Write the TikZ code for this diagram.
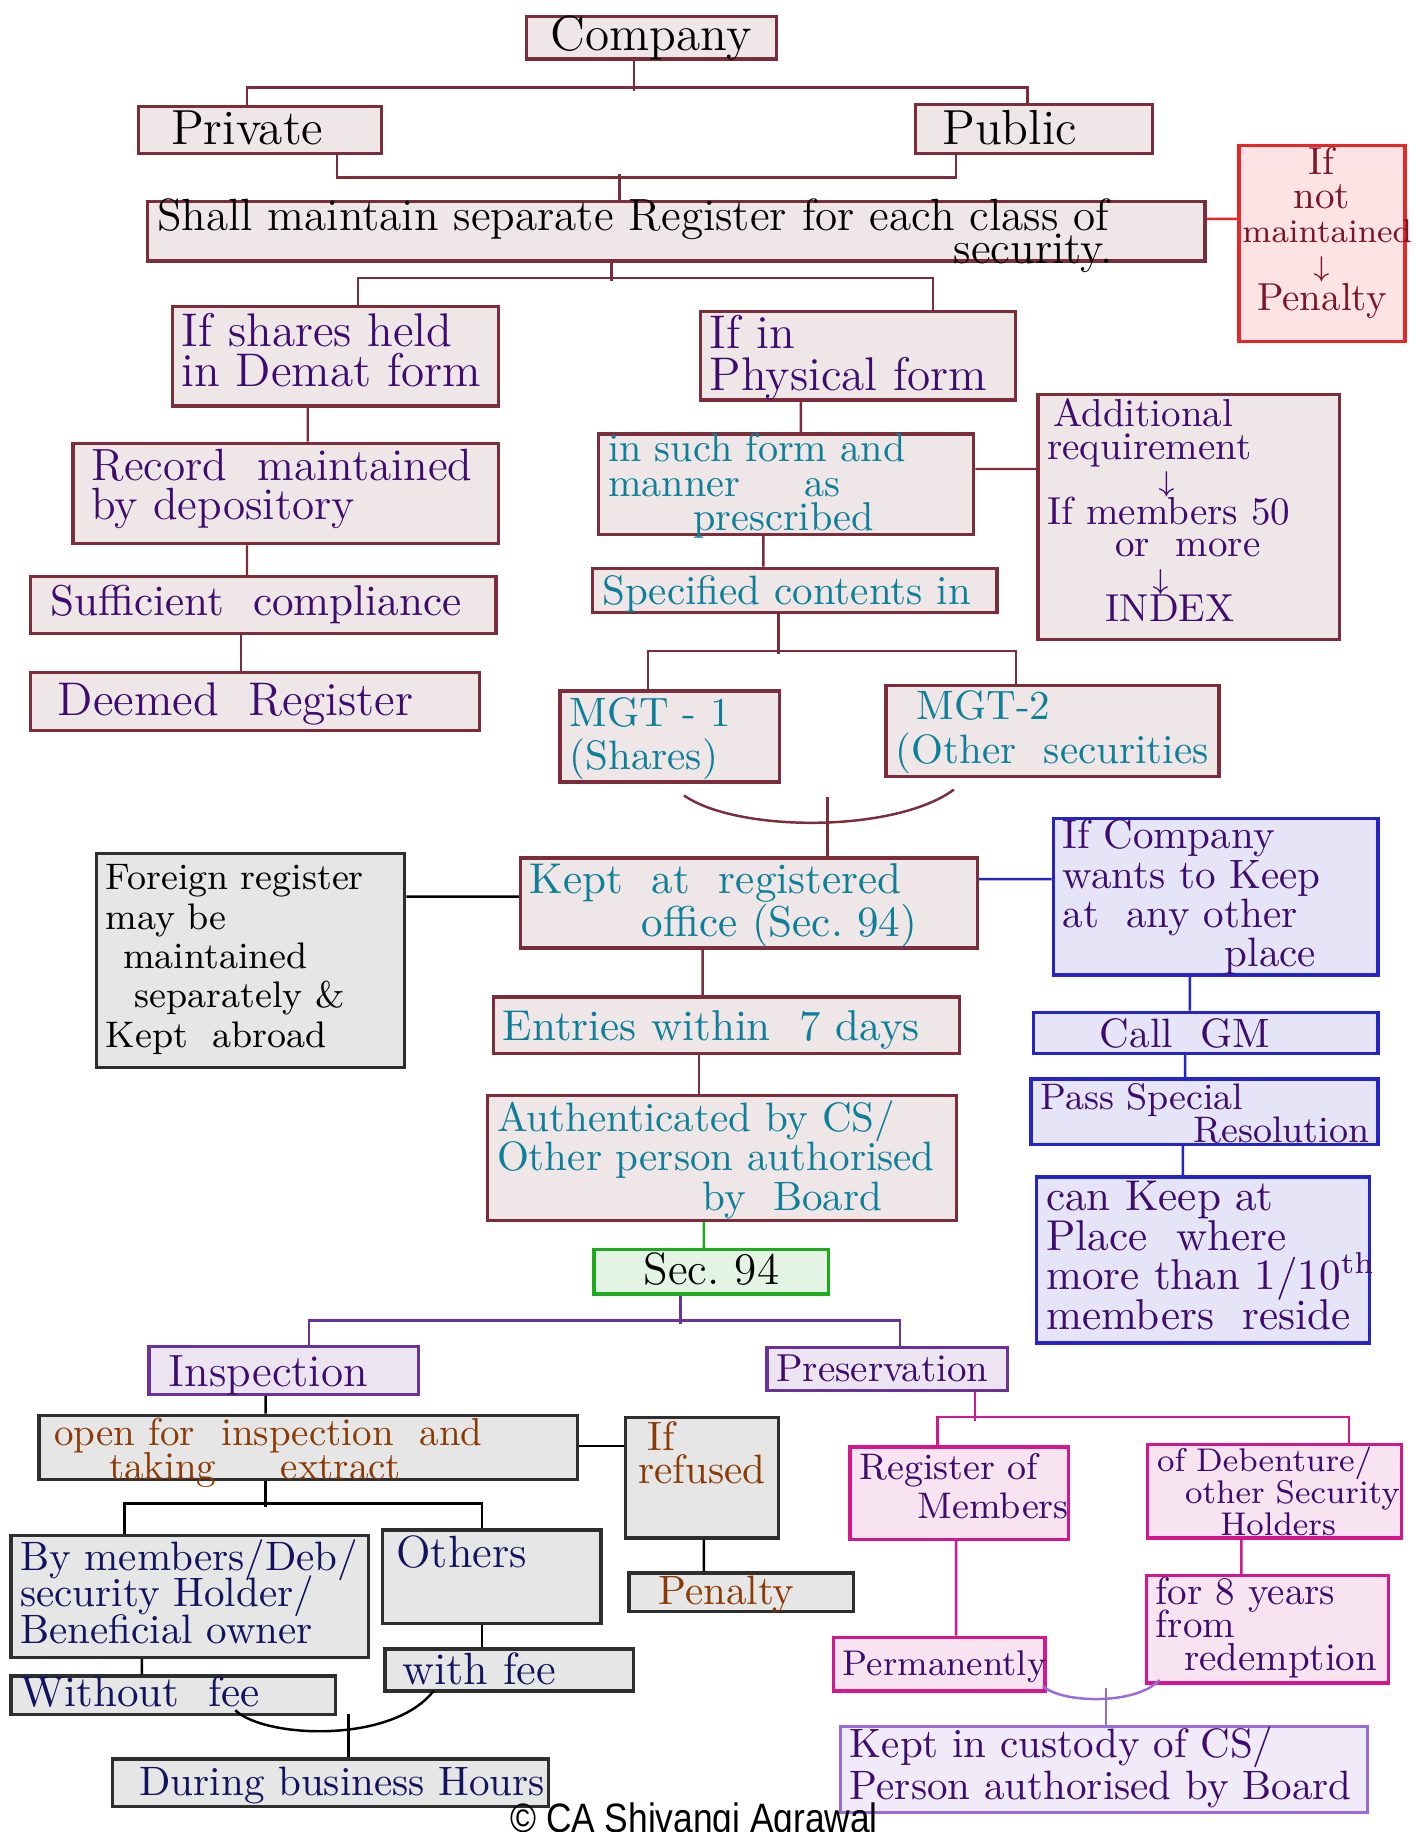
\documentclass[tikz,border=0pt]{standalone}
\usepackage{fontspec}
\usepackage{graphicx}
\newfontfamily\creditfont{Liberation Sans}
\definecolor{mline}{HTML}{7B2D3C}
\definecolor{mfill}{HTML}{EFE6E8}
\definecolor{tealtxt}{HTML}{0E7F98}
\definecolor{purptxt}{HTML}{3E0B6E}
\definecolor{redline}{HTML}{E8262A}
\definecolor{redfill}{HTML}{FDE3E3}
\definecolor{redtxt}{HTML}{7A1426}
\definecolor{greyline}{HTML}{2E2E2E}
\definecolor{greyfill}{HTML}{E6E6E6}
\definecolor{blueline}{HTML}{2424C8}
\definecolor{bluefill}{HTML}{E5E5F7}
\definecolor{greenline}{HTML}{1DAA1D}
\definecolor{greenfill}{HTML}{E4F4E4}
\definecolor{violine}{HTML}{6B3399}
\definecolor{viofill}{HTML}{EDE4F1}
\definecolor{browntxt}{HTML}{8A3A05}
\definecolor{navytxt}{HTML}{12125E}
\definecolor{pinkline}{HTML}{D6168C}
\definecolor{pinkfill}{HTML}{F8E4F1}
\definecolor{lavline}{HTML}{9A6CDA}
\definecolor{lavfill}{HTML}{F1EAF9}
\newcommand\tightlines{\lineskiplimit=-30pt\relax\normallineskiplimit=-30pt\relax}
\newcommand\darr{$\scriptstyle\downarrow$}
\begin{document}
\hyphenpenalty=10000
\exhyphenpenalty=10000
\tightlines
\begin{tikzpicture}[x=0.1mm,y=-0.1mm,
  bx/.style={draw,rectangle,anchor=north west,inner xsep=0.8mm,inner ysep=0pt,align=left,line width=0.8pt},
  dims/.style n args={3}{text width=#1mm,text height=#2mm,text depth=#3mm},
  fs/.style 2 args={font=\fontsize{#1}{#2}\selectfont\tightlines},
  mbox/.style={bx,draw=mline,fill=mfill},
  rbox/.style={bx,draw=redline,fill=redfill,text=redtxt},
  gbox/.style={bx,draw=greyline,fill=greyfill},
  bbox/.style={bx,draw=blueline,fill=bluefill,text=purptxt},
  sbox/.style={bx,draw=greenline,fill=greenfill},
  vbox/.style={bx,draw=violine,fill=viofill,text=purptxt},
  pbox/.style={bx,draw=pinkline,fill=pinkfill,text=purptxt},
  lbox/.style={bx,draw=lavline,fill=lavfill,text=purptxt},
  link/.style={line width=0.6pt}]
\fill[white] (0,0) rectangle (1211,1568);
\useasboundingbox (0,0) rectangle (1211,1568);
% top part
\path (449,13) node[mbox,dims={19.8}{2.9}{0.7},fs={12}{12},align=center] (company) {Company};
\path (117,90) node[mbox,dims={19.2}{3.2}{0.8},fs={12}{12}] (private) {\hspace*{2mm}Private};
\path (782,88) node[mbox,dims={18.7}{3.4}{0.8},fs={12}{12}] (public) {\hspace*{1.5mm}Public};
\path (125,171) node[mbox,dims={88.9}{2.5}{2.6},fs={11}{7.9}] (shall) {Shall~maintain~separate~Register~for~each~class~of\\\hspace*{68.2mm}security.};
\path (1059,123) node[rbox,dims={13.6}{2.5}{14.3},fs={9.5}{8.3},align=center,inner xsep=0.3mm] (nopenalty) {If\\not\\{\fontsize{8}{8}\selectfont maintained}\\\darr\\Penalty};
\path (146,261) node[mbox,text=purptxt,dims={26.3}{3.4}{5.1},fs={11.5}{9.9}] (demat) {If~shares~held\\in~Demat~form};
\path (598,265) node[mbox,text=purptxt,dims={25.4}{3.2}{4.4},fs={11.5}{10.2}] (physical) {If~in\\Physical~form};
\path (61,378) node[mbox,text=purptxt,dims={34.8}{3.2}{5.4},fs={11}{9.4}] (record) {\hspace*{0.8mm}Record~~maintained\\\hspace*{0.8mm}by~depository};
\path (511,370) node[mbox,text=tealtxt,dims={30.5}{2.4}{6.2},fs={9.8}{8.4}] (suchform) {in~such~form~and\\manner\hspace*{5.5mm}as\\\hspace*{7.3mm}prescribed};
\path (887,336) node[mbox,text=purptxt,dims={24.2}{2.8}{18.2},fs={9.5}{7.9}] (additional) {\hspace*{0.5mm}Additional\\requirement\\\hspace*{9.5mm}\darr\\If~members~50\\\hspace*{5.8mm}or~~more\\\hspace*{9mm}\darr\\\hspace*{5mm}INDEX};
\path (25,492) node[mbox,text=purptxt,dims={38.2}{3.3}{1.6},fs={10.5}{10}] (sufficient) {\hspace*{0.9mm}Sufficient~~compliance};
\path (506,485) node[mbox,text=tealtxt,dims={33.0}{3.1}{0.7},fs={10}{10}] (specified) {Specified~contents~in};
\path (25,574) node[mbox,text=purptxt,dims={36.8}{3.7}{1.3},fs={11.5}{11}] (deemed) {\hspace*{1.5mm}Deemed\hspace*{2.5mm}Register};
\path (478,590) node[mbox,text=tealtxt,dims={17.2}{3.0}{4.8},fs={10}{10.5}] (mgt1) {MGT~-~1\\(Shares)};
\path (757,585) node[mbox,text=tealtxt,dims={26.9}{2.9}{4.9},fs={10}{10.8}] (mgt2) {\hspace*{1.8mm}MGT-2\\(Other~~securities};
% middle part
\path (444,733) node[mbox,text=tealtxt,dims={37.5}{3.0}{4.7},fs={10.5}{10.5}] (office) {Kept~~at~~registered\\\hspace*{9.6mm}office~(Sec.~94)};
\path (81,729) node[gbox,dims={24.8}{3.1}{15.2},fs={9}{9.6}] (foreign) {Foreign~register\\may~be\\\hspace*{1.5mm}maintained\\\hspace*{2.5mm}separately~\&\\Kept~~abroad};
\path (900,699) node[bbox,dims={26.2}{2.6}{10.8},fs={10}{9.6}] (wants) {If~Company\\wants~to~Keep\\at~~any~other\\\hspace*{13.9mm}place};
\path (421,852) node[mbox,text=tealtxt,dims={38.3}{3.7}{1.1},fs={10.5}{10}] (entries) {Entries~within~~7~days};
\path (883,865) node[bbox,dims={27.9}{3.0}{0.5},fs={10}{10}] (callgm) {\hspace*{4.9mm}Call~~GM};
\path (416,936) node[mbox,text=tealtxt,dims={38.5}{3.1}{7.6},fs={10}{9.6}] (auth) {Authenticated~by~CS/\\Other~person~authorised\\\hspace*{17.6mm}by~~Board};
\path (881,922) node[bbox,dims={28.1}{2.6}{3.0},fs={9}{8}] (passsr) {Pass~Special\\\hspace*{13.1mm}Resolution};
\path (507,1068) node[sbox,dims={18.5}{3.0}{0.8},fs={11}{11},align=center] (sec94) {Sec.~94};
\path (886,1006) node[bbox,dims={26.9}{2.9}{11.3},fs={10.5}{9.6}] (cankeep) {can~Keep~at\\Place~~where\\more~than~1/10\textsuperscript{th}\\members~~reside};
% bottom part
\path (126,1151) node[vbox,dims={21.5}{3.4}{0.7},fs={11}{11}] (inspection) {\hspace*{0.9mm}Inspection};
\path (655,1152) node[vbox,dims={19.0}{2.9}{0.8},fs={9.5}{9.5}] (preservation) {Preservation};
\path (32,1210) node[gbox,text=browntxt,dims={44.5}{2.6}{2.9},fs={9.5}{8.2}] (openfor) {\hspace*{0.5mm}open~for~~inspection~~and\\\hspace*{5.2mm}taking\hspace*{5.5mm}extract};
\path (534,1212) node[gbox,text=browntxt,dims={11.5}{2.8}{7.5},fs={10}{8}] (refused) {\hspace*{1.1mm}If\\\hspace*{0.3mm}refused};
\path (537,1345) node[gbox,text=browntxt,dims={17.6}{2.7}{0.6},fs={10}{10}] (penalty) {\hspace*{1.7mm}Penalty};
\path (8,1313) node[gbox,text=navytxt,dims={29.0}{3.0}{7.4},fs={10}{8.8}] (members) {By~members/Deb/\\security~Holder/\\Beneficial~owner};
\path (326,1308) node[gbox,text=navytxt,dims={17.1}{3.2}{4.8},fs={11}{11}] (others) {\hspace*{0.4mm}Others};
\path (8,1433) node[gbox,text=navytxt,dims={26.2}{2.6}{0.7},fs={10.5}{10}] (withoutfee) {Without~~fee};
\path (328,1410) node[gbox,text=navytxt,dims={19.7}{3.0}{0.6},fs={11}{11}] (withfee) {\hspace*{0.7mm}with~fee};
\path (95,1504) node[gbox,text=navytxt,dims={35.7}{3.1}{1.0},fs={10}{10}] (during) {\hspace*{1.5mm}During~business~Hours};
\path (726,1237) node[pbox,dims={17.1}{2.8}{5.1},fs={9}{9.4}] (register) {Register~of\\\hspace*{5mm}Members};
\path (981,1235) node[pbox,dims={20.1}{2.3}{5.7},fs={8}{7.8}] (debenture) {of~Debenture/\\\hspace*{2.4mm}other~Security\\\hspace*{5.4mm}Holders};
\path (712,1400) node[pbox,dims={16.5}{3.3}{1.3},fs={8.7}{9}] (permanently) {Permanently};
\path (980,1347) node[pbox,dims={19.1}{2.5}{6.7},fs={9.5}{8}] (foryears) {for~8~years\\from\\\hspace*{2.4mm}redemption};
\path (718,1476) node[lbox,dims={43.5}{2.7}{4.7},fs={10}{10.2}] (custody) {Kept~in~custody~of~CS/\\Person~authorised~by~Board};
\path (594,1568) node[anchor=base,inner sep=0pt,font=\creditfont\fontsize{10}{10}\selectfont] (credit) {\scalebox{0.86}[1]{© CA Shivangi Agrawal}};
% connectors
\begin{scope}[link,mline]
\draw ([xshift=-1.5mm]company.south) -- ++(0,26);
\draw ([xshift=-1.1mm]private.north) -- ++(0,-15) -| ([xshift=-0.55mm]public.north);
\draw ([xshift=6.6mm]private.south) -- ++(0,19) -| ([xshift=-6.65mm]public.south);
\draw ([xshift=-4.85mm]shall.north) -- ++(0,-22);
\draw ([xshift=-5.55mm]shall.south) -- ++(0,16);
\draw ([xshift=1.95mm]demat.north) -- ++(0,-23) -| ([xshift=6.4mm]physical.north);
\draw ([yshift=1.3mm]suchform.east) -- ([yshift=4.1mm]additional.west);
\draw ([xshift=-1.4mm]specified.south) -- ++(0,34);
\draw ([xshift=-1.9mm]mgt1.north) -- ++(0,-33) -| ([xshift=-3.15mm]mgt2.north);
\draw ([xshift=1.2mm,yshift=-1mm]mgt1.south) .. controls +(46,32) and +(-50,37) .. ([xshift=-8.45mm,yshift=-1mm]mgt2.south);
\draw ([xshift=6.75mm]office.north) -- ++(0,-51);
\foreach \a/\sa/\b/\sb in {demat/-2.35/record/1.9,physical/-4.9/suchform/1.25,record/-3.3/sufficient/-1.4,suchform/-1.95/specified/-2.7,sufficient/-1.9/deemed/-1.2,office/-3.95/entries/-2.05,entries/-2.35/auth/-1.95}
  \draw ([xshift=\sa mm]\a.south) -- ([xshift=\sb mm]\b.north);
\end{scope}
\draw[link,redline] ([yshift=1.05mm]shall.east) -- ([yshift=2.1mm]nopenalty.west);
\draw[link,greenline] ([xshift=-1.55mm]auth.south) -- ([xshift=-0.65mm]sec94.north);
\draw[link] ([yshift=0.55mm]office.west) -- ([yshift=5.45mm]foreign.east);
\draw[link,blueline] ([yshift=2.05mm]office.east) -- ([yshift=1.5mm]wants.west);
\foreach \a/\sa/\b/\sb in {wants/-2.2/callgm/-1.35,callgm/-1.75/passsr/-1.65,passsr/-1.85/cankeep/-1.75}
  \draw[link,blueline] ([xshift=\sa mm]\a.south) -- ([xshift=\sb mm]\b.north);
\draw[link,violine] ([xshift=-2.65mm]sec94.south) -- ++(0,24);
\draw[link,violine] ([xshift=2.15mm]inspection.north) -- ++(0,-21) -| ([xshift=1.1mm]preservation.north);
\begin{scope}[link]
\draw ([yshift=0.15mm]openfor.east) -- ([yshift=2.75mm]refused.west);
\draw ([xshift=-3.65mm]openfor.south) -- ++(0,22);
\draw ([xshift=-5.6mm]members.north) -- ++(0,-26) -| ([xshift=-0.85mm]others.north);
\draw ([xshift=5.3mm,yshift=0.5mm]withoutfee.south) .. controls +(25,24) and +(-35,46) .. ([xshift=-6.45mm,yshift=0.2mm]withfee.south);
\draw ([xshift=1.55mm]during.north) -- ++(0,-37);
\foreach \a/\sa/\b/\sb in {inspection/-1.55/openfor/-3.65,refused/0.15/penalty/-3.2,members/-4.1/withoutfee/-2.7,others/-0.85/withfee/-2.35}
  \draw ([xshift=\sa mm]\a.south) -- ([xshift=\sb mm]\b.north);
\end{scope}
\begin{scope}[link,pinkline]
\draw ([xshift=7.5mm]preservation.south) -- ++(0,24);
\draw ([xshift=-1.85mm]register.north) -- ++(0,-24) -| ([xshift=6.35mm]debenture.north);
\foreach \a/\sa/\b/\sb in {register/-0.25/permanently/1.45,debenture/-2.85/foryears/-2.25}
  \draw ([xshift=\sa mm]\a.south) -- ([xshift=\sb mm]\b.north);
\end{scope}
\draw[link,lavline] ([xshift=8.85mm,yshift=0.6mm]permanently.south) .. controls +(15,15) and +(-20,22) .. ([xshift=-9.25mm,yshift=0.4mm]foryears.south);
\draw[link,lavline] ([xshift=0.15mm]custody.north) -- ++(0,-31);
\end{tikzpicture}
\end{document}
